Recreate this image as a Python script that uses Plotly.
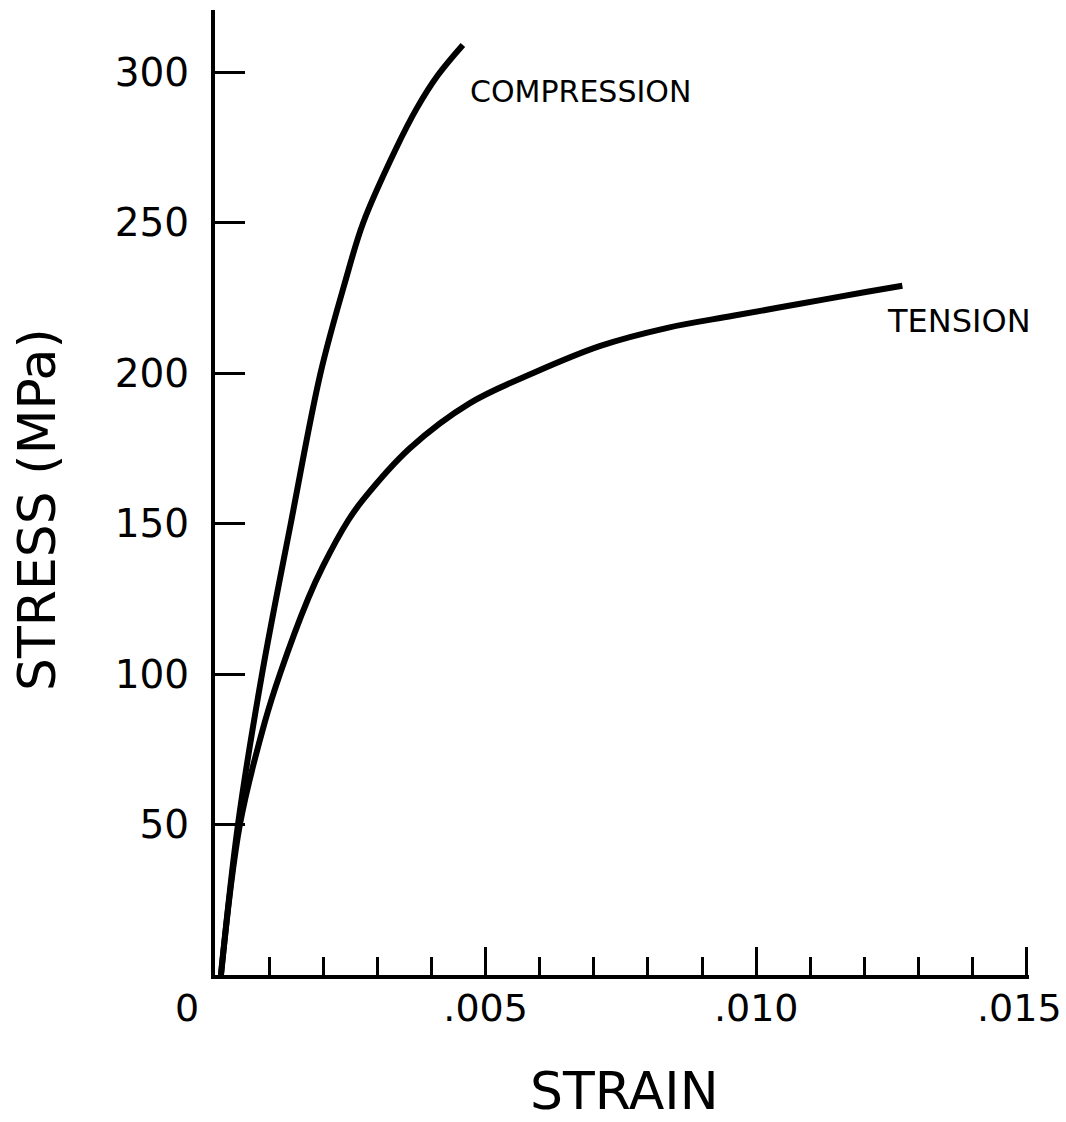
import plotly.graph_objects as go

# Stress-strain curves (strain in mm/mm, stress in MPa)
compression_strain = [0.00011, 0.000425, 0.000869, 0.0014, 0.00195, 0.0024, 0.00274,
                      0.00333, 0.00373, 0.00412, 0.00458]
compression_stress = [0, 50, 100, 150, 200, 230, 250, 274, 288, 299, 309]

tension_strain = [0.00011, 0.00046, 0.00092, 0.0012, 0.00172, 0.002, 0.00246, 0.00274,
                  0.0036, 0.00471, 0.00588, 0.00712, 0.00836, 0.00957, 0.01081, 0.01205, 0.0127]
tension_stress = [0, 50, 84, 100, 125, 136, 151, 158, 175, 190, 200, 209, 215, 219, 223, 227, 229]

x_tick_vals = [0, 0.005, 0.010, 0.015]
x_tick_labels = ["0", ".005", ".010", ".015"]
y_tick_vals = [50, 100, 150, 200, 250, 300]
y_tick_labels = ["50", "100", "150", "200", "250", "300"]

FONT = "DejaVu Sans"
INK = "black"
TICK_FONT = dict(size=38, family=FONT, color=INK)

fig = go.Figure()
for xs, ys in [(compression_strain, compression_stress), (tension_strain, tension_stress)]:
    fig.add_trace(go.Scatter(
        x=xs, y=ys, mode="lines",
        line=dict(color=INK, width=6, shape="spline", smoothing=1.0),
        cliponaxis=False, showlegend=False, hoverinfo="skip",
    ))

# the two end labels (origin and .015) are placed by hand below;
# the axis itself draws only the inner ones
axis_ticktext = [""] + x_tick_labels[1:-1] + [""]

fig.update_layout(
    width=1066, height=1122,
    margin=dict(l=215, r=37, t=10, b=147),
    paper_bgcolor="white", plot_bgcolor="white",
    font=dict(family=FONT, color=INK),
    xaxis=dict(
        # a little headroom past .015 so the end tick is kept
        range=[0, 0.01504], showgrid=False, zeroline=False,
        showline=True, linecolor=INK, linewidth=4,
        tickmode="array", tickvals=x_tick_vals, ticktext=axis_ticktext,
        ticks="inside", ticklen=28, tickwidth=3, tickcolor=INK,
        tickfont=TICK_FONT,
        ticklabelstandoff=-4,
        minor=dict(dtick=0.001, tick0=0, ticks="inside", ticklen=18,
                   tickwidth=3, tickcolor=INK, showgrid=False),
    ),
    yaxis=dict(
        range=[0, 320.6], showgrid=False, zeroline=False,
        showline=True, linecolor=INK, linewidth=4,
        tickmode="array", tickvals=y_tick_vals, ticktext=y_tick_labels,
        ticks="inside", ticklen=30, tickwidth=3, tickcolor=INK,
        tickfont=dict(size=39, family=FONT, color=INK),
        ticklabelstandoff=14,
    ),
)

annotations = [
    # origin label sits in the corner between the axes
    dict(text=x_tick_labels[0], x=x_tick_vals[0], xref="x", y=0, yref="y",
         xshift=-28, yshift=-33, xanchor="center", yanchor="middle",
         showarrow=False, font=TICK_FONT),
    # last strain label, nudged in so it stays on the page
    dict(text=x_tick_labels[-1], x=x_tick_vals[-1], xref="x", y=0, yref="y",
         xshift=-7, yshift=-33, xanchor="center", yanchor="middle",
         showarrow=False, font=TICK_FONT),
    dict(text="STRAIN", x=0.00756, xref="x", y=0, yref="paper", yshift=-116,
         xanchor="center", yanchor="middle", showarrow=False,
         font=dict(size=52, family=FONT, color=INK)),
    dict(text="STRESS (MPa)", x=0, xref="paper", xshift=-178, y=154.5, yref="y",
         textangle=-90, xanchor="center", yanchor="middle", showarrow=False,
         font=dict(size=52, family=FONT, color=INK)),
    dict(text="COMPRESSION", x=0.00468, xref="x", y=293.4, yref="y",
         xanchor="left", yanchor="middle", showarrow=False,
         font=dict(size=30, family=FONT, color=INK)),
    dict(text="TENSION", x=0.01238, xref="x", y=217.3, yref="y",
         xanchor="left", yanchor="middle", showarrow=False,
         font=dict(size=32, family=FONT, color=INK)),
]
fig.update_layout(annotations=annotations)

fig.write_html("out.html")
